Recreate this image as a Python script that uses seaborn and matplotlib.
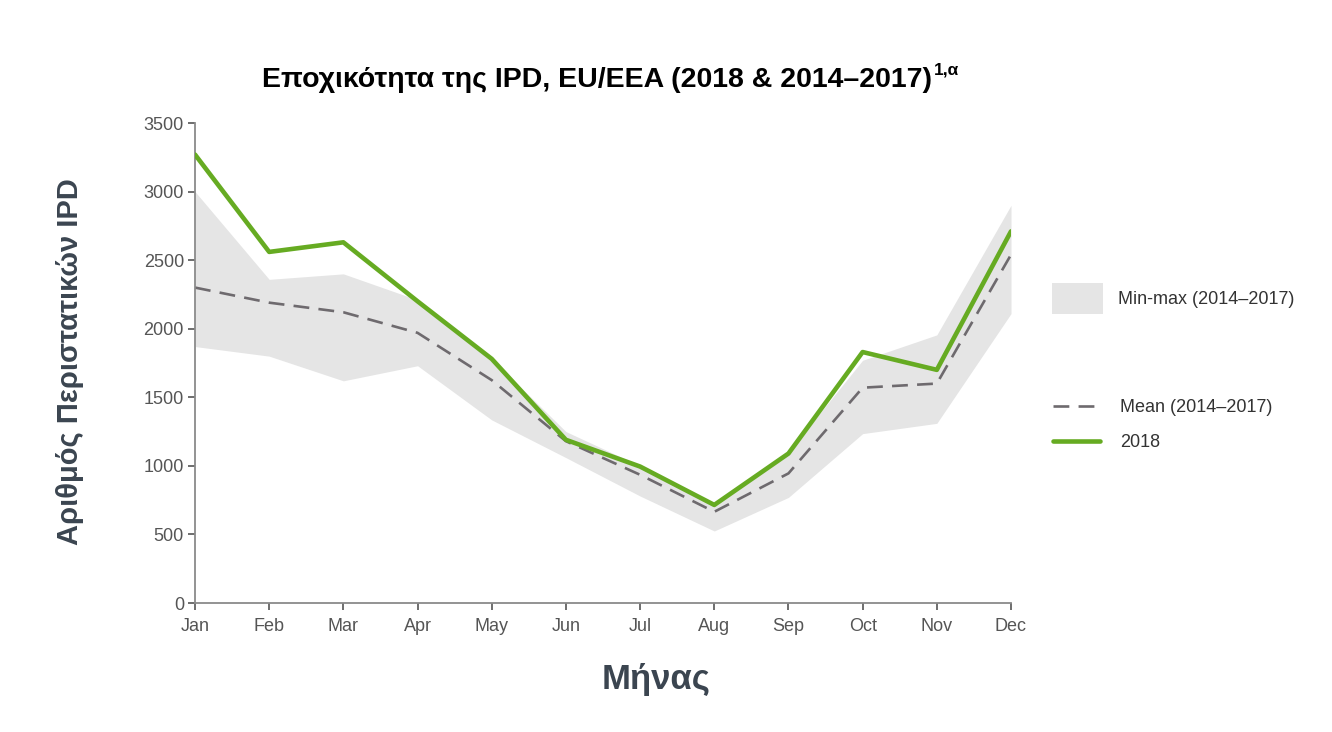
import numpy as np
import pandas as pd
import matplotlib
matplotlib.use("Agg")
import matplotlib.pyplot as plt
import seaborn as sns
from matplotlib.patches import Patch
from matplotlib.lines import Line2D

months = ["Jan", "Feb", "Mar", "Apr", "May", "Jun", "Jul", "Aug", "Sep", "Oct", "Nov", "Dec"]
cases_2018 = [3270, 2560, 2630, 2200, 1780, 1190, 995, 715, 1090, 1830, 1700, 2710]
mean_2014_2017 = [2300, 2190, 2120, 1970, 1625, 1180, 935, 665, 945, 1570, 1600, 2540]
min_2014_2017 = [1870, 1800, 1620, 1730, 1335, 1060, 780, 525, 770, 1235, 1310, 2110]
max_2014_2017 = [3000, 2360, 2400, 2210, 1780, 1250, 1000, 720, 1100, 1770, 1955, 2900]
y_ticks = [0, 500, 1000, 1500, 2000, 2500, 3000, 3500]

title_main = "Εποχικότητα της IPD, EU/EEA (2018 & 2014–2017)"
title_sup = "1,α"
x_label = "Μήνας"
y_label = "Αριθμός Περιστατικών IPD"
lbl_band = "Min-max (2014–2017)"
lbl_mean = "Mean (2014–2017)"
lbl_2018 = "2018"

sns.set_theme(style="white")
plt.rcParams["font.family"] = ["Liberation Sans", "DejaVu Sans"]

df = pd.DataFrame({
    "idx": np.arange(len(months)),
    "month": months,
    "y2018": cases_2018,
    "mean": mean_2014_2017,
    "lo": min_2014_2017,
    "hi": max_2014_2017,
})

GREEN = "#66ab22"
GREY = "#6e6a6e"
BAND = "#e5e5e5"

fig = plt.figure(figsize=(13.32, 7.32), dpi=100)
ax = fig.add_axes([195 / 1332, 1 - 603 / 732, (1011 - 195) / 1332, (603 - 123) / 732])

ax.fill_between(df["idx"], df["lo"], df["hi"], color=BAND, linewidth=0, zorder=1)
sns.lineplot(data=df, x="idx", y="mean", ax=ax, color=GREY, linewidth=1.9,
             dashes=False, zorder=2)
ax.lines[-1].set_dashes((6, 3.5))
sns.lineplot(data=df, x="idx", y="y2018", ax=ax, color=GREEN, linewidth=3.3, zorder=3)

ax.set_xlim(0, len(months) - 1)
ax.set_ylim(0, 3500)
ax.set_xticks(df["idx"])
ax.set_xticklabels(months)
ax.set_yticks(y_ticks)
ax.set_xlabel("")
ax.set_ylabel("")
for s in ["top", "right"]:
    ax.spines[s].set_visible(False)
for s in ["left", "bottom"]:
    ax.spines[s].set_color("#8a8a8a")
    ax.spines[s].set_linewidth(1.3)
ax.tick_params(axis="both", direction="out", length=5, width=1.2, color="#555555",
               labelsize=13, labelcolor="#555555", left=True, bottom=True)
ax.tick_params(axis="x", pad=6)
ax.tick_params(axis="y", pad=3)

# axis labels
fig.text(70 / 1332, 1 - 362 / 732, y_label, rotation=90, ha="center", va="center",
         fontsize=21, fontweight="bold", color="#3b4550")
fig.text(656 / 1332, 1 - 680 / 732, x_label, ha="center", va="center",
         fontsize=25, fontweight="bold", color="#3b4550")

# title with superscript
fig.text(932 / 1332, 1 - 80 / 732, title_main, ha="right", va="center",
         fontsize=20.5, fontweight="bold", color="black")
fig.text(934 / 1332, 1 - 70 / 732, title_sup, ha="left", va="center",
         fontsize=12.5, fontweight="bold", color="black")

# legends
fig.legend(handles=[Patch(facecolor=BAND, edgecolor="none", label=lbl_band)],
           loc="upper left", bbox_to_anchor=(1052 / 1332, 1 - 283 / 732),
           frameon=False, fontsize=13, borderpad=0, borderaxespad=0,
           handlelength=2.8, handleheight=2.3, handletextpad=0.85,
           labelcolor="#333333")
fig.legend(handles=[Line2D([0], [0], color=GREY, lw=1.9, dashes=(6, 3.5), label=lbl_mean),
                    Line2D([0], [0], color=GREEN, lw=3.3, label=lbl_2018)],
           loc="upper left", bbox_to_anchor=(1053 / 1332, 1 - 399 / 732),
           frameon=False, fontsize=13, borderpad=0, borderaxespad=0,
           handlelength=2.6, handletextpad=1.1, labelspacing=1.0,
           labelcolor="#333333")

fig.savefig("out.png", dpi=100)
